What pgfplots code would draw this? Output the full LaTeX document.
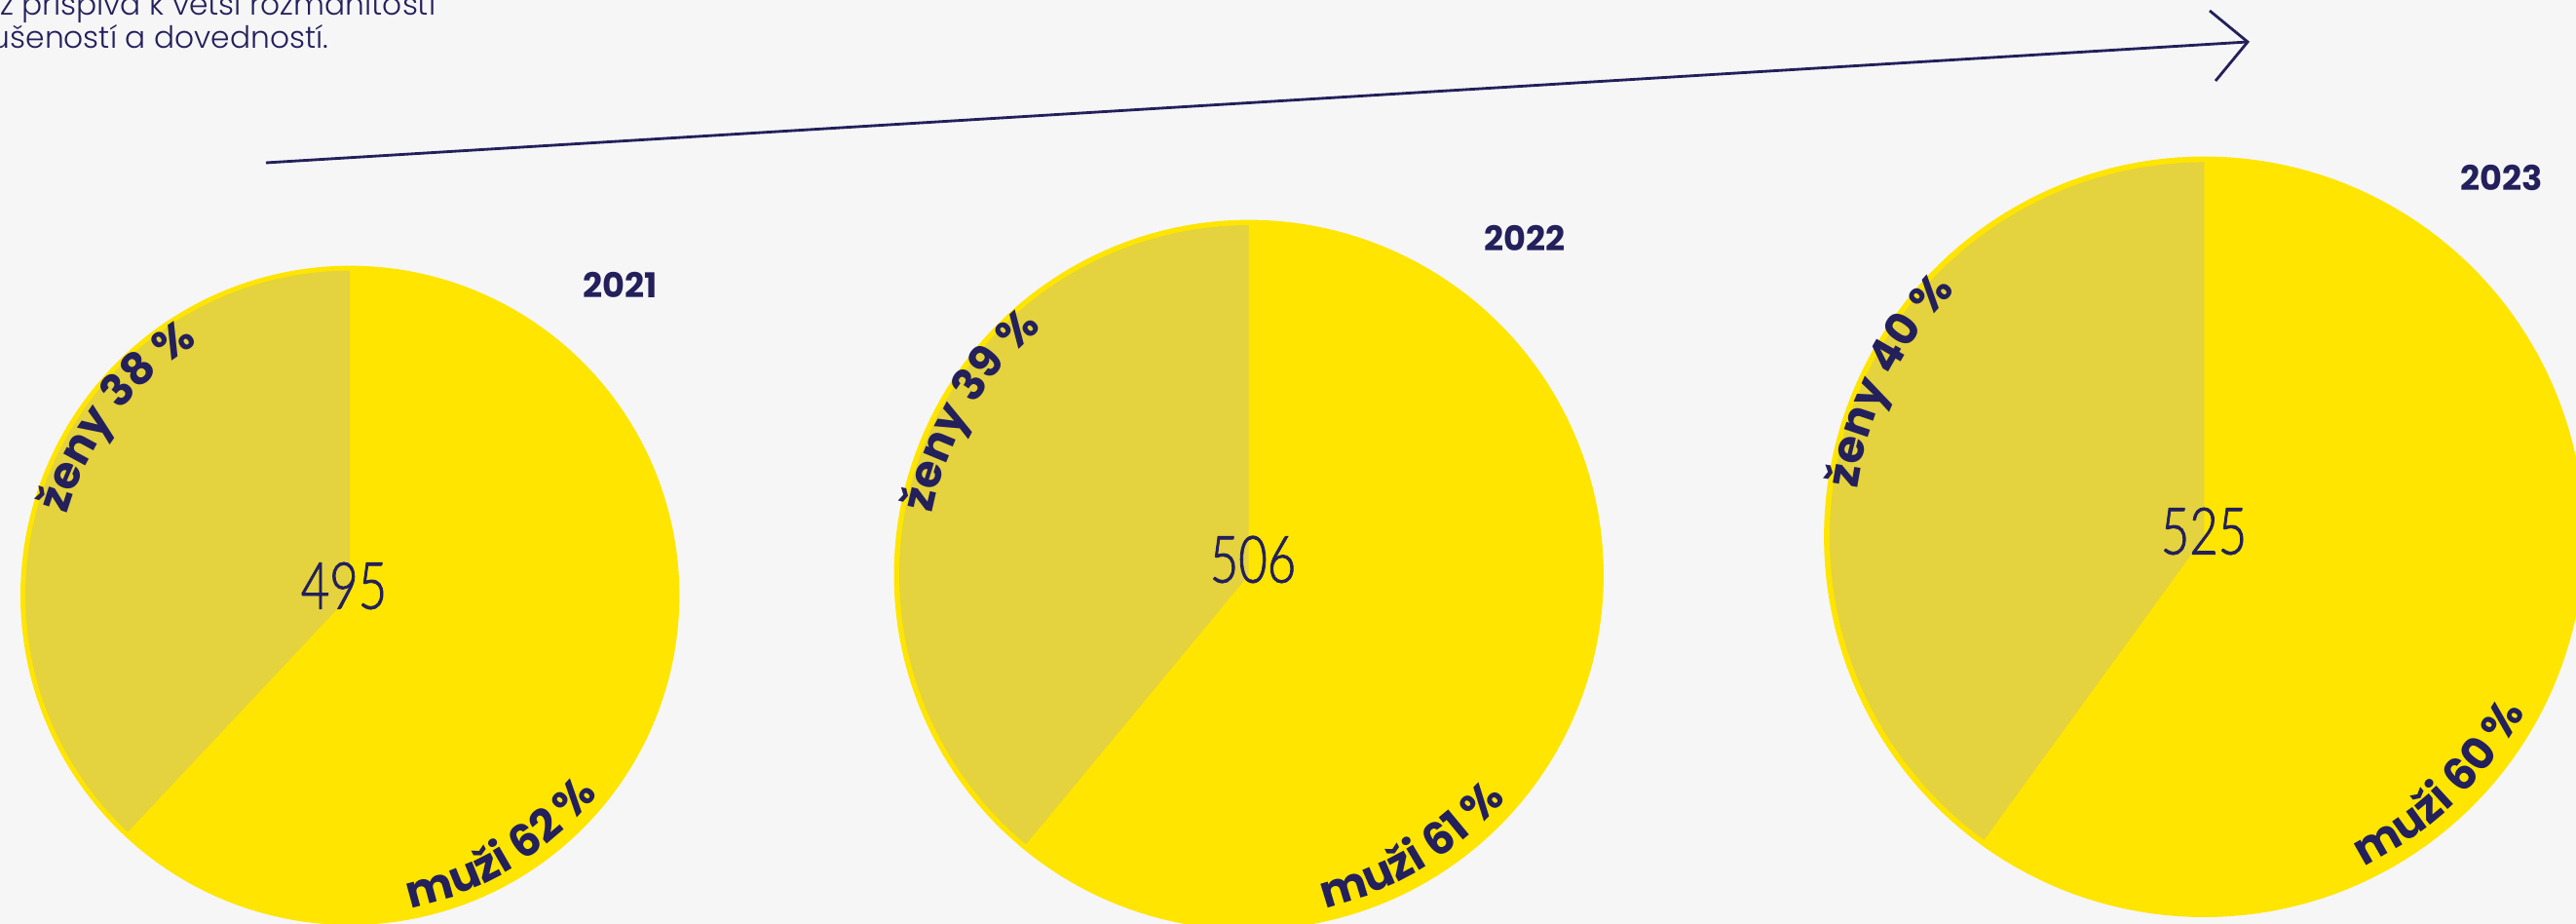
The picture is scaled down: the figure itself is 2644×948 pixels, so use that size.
\documentclass[border=0pt]{standalone}
\usepackage{pgfplots}
\pgfplotsset{compat=1.18}
\usepgfplotslibrary{polar}
\usetikzlibrary{decorations.text}
\usepackage{fontspec}
\newfontfamily\popfont{Poppins}
\newfontfamily\poplight{Poppins Light}
\newfontfamily\numfont{Lato Light}[FakeStretch=0.76,FakeBold=1.2]
\definecolor{navy}{HTML}{23205B}
\definecolor{muzi}{HTML}{FFE500}
\definecolor{zeny}{HTML}{E4D23E}
\definecolor{bg}{HTML}{F6F6F7}

% shares in percent: year, zeny, muzi, total
% 2021: 38 62 495 ; 2022: 39 61 506 ; 2023: 40 60 525

\pgfplotsset{
  piebase/.style={
    anchor=center, scale only axis, hide axis, clip=false,
    xmin=0, xmax=360, ymin=0, ymax=1, enlargelimits=false},
}

\begin{document}
\begin{tikzpicture}[x=0.01cm,y=0.01cm]
\path[use as bounding box] (0,0) rectangle (2644,948);
\clip (0,0) rectangle (2644,948);
\fill[bg] (0,0) rectangle (2644,948);

% ---- 2021 ----
\begin{polaraxis}[piebase, at={(3.59cm,3.37cm)}, width=6.76cm, height=6.76cm]
\addplot[draw=none, fill=muzi, domain=0:360, samples=181] {1};
\addplot[draw=none, fill=zeny, domain=90:226.8, samples=90] {0.985} -- (axis cs:0,0) -- cycle;
\end{polaraxis}
% ---- 2022 ----
\begin{polaraxis}[piebase, at={(12.81cm,3.58cm)}, width=7.28cm, height=7.28cm]
\addplot[draw=none, fill=muzi, domain=0:360, samples=181] {1};
\addplot[draw=none, fill=zeny, domain=90:230.4, samples=90] {0.985} -- (axis cs:0,0) -- cycle;
\end{polaraxis}
% ---- 2023 ----
\begin{polaraxis}[piebase, at={(22.61cm,3.97cm)}, width=7.80cm, height=7.80cm]
\addplot[draw=none, fill=muzi, domain=0:360, samples=181] {1};
\addplot[draw=none, fill=zeny, domain=90:234, samples=90] {0.985} -- (axis cs:0,0) -- cycle;
\end{polaraxis}

\coordinate (c1) at (359,337);
\coordinate (c2) at (1281,358);
\coordinate (c3) at (2261,397);

% totals
\node[inner sep=0, text=navy, font=\numfont\fontsize{19}{20}\selectfont] at (353,347) {495};
\node[inner sep=0, text=navy, font=\numfont\fontsize{19}{20}\selectfont] at (1286,374) {506};
\node[inner sep=0, text=navy, font=\numfont\fontsize{19}{20}\selectfont] at (2262,403) {525};

% years
\node[inner sep=0, text=navy, font=\popfont\bfseries\fontsize{10}{12}\selectfont] at (637,656) {2021};
\node[inner sep=0, text=navy, font=\popfont\bfseries\fontsize{10}{12}\selectfont] at (1565,704) {2022};
\node[inner sep=0, text=navy, font=\popfont\bfseries\fontsize{10}{12}\selectfont] at (2568,766) {2023};

% curved labels
\def\labfmt{\popfont\bfseries\fontsize{13pt}{15pt}\selectfont\color{navy}}
\path[decorate, decoration={text along path, text={|\labfmt|ženy 38 {\%}}}]
  ([shift={(164:3.02cm)}]c1) arc[start angle=164, end angle=90, radius=3.02cm];
\path[decorate, decoration={text along path, text={|\labfmt|muži 62 {\%}}}]
  ([shift={(-79:3.26cm)}]c1) arc[start angle=-79, end angle=0, radius=3.26cm];
\path[decorate, decoration={text along path, text={|\labfmt|ženy 39 {\%}}}]
  ([shift={(169:3.30cm)}]c2) arc[start angle=169, end angle=90, radius=3.30cm];
\path[decorate, decoration={text along path, text={|\labfmt|muži 61 {\%}}}]
  ([shift={(-77:3.50cm)}]c2) arc[start angle=-77, end angle=0, radius=3.50cm];
\path[decorate, decoration={text along path, text={|\labfmt|ženy 40 {\%}}}]
  ([shift={(172:3.58cm)}]c3) arc[start angle=172, end angle=90, radius=3.58cm];
\path[decorate, decoration={text along path, text={|\labfmt|muži 60 {\%}}}]
  ([shift={(-64:3.76cm)}]c3) arc[start angle=-64, end angle=10, radius=3.76cm];

% arrow
\draw[navy, line width=0.8pt] (273,781) -- (2307,905);
\draw[navy, line width=0.8pt] (2268,937) -- (2307,905) -- (2274,865);

% intro text (cut off at the edge)
\node[anchor=base east, inner sep=0, text=navy, font=\poplight\fontsize{8.9}{10}\selectfont] at (448,932) {což přispívá k větší rozmanitosti};
\node[anchor=base east, inner sep=0, text=navy, font=\poplight\fontsize{8.9}{10}\selectfont] at (338,898) {zkušeností a dovedností.};
\end{tikzpicture}
\end{document}
